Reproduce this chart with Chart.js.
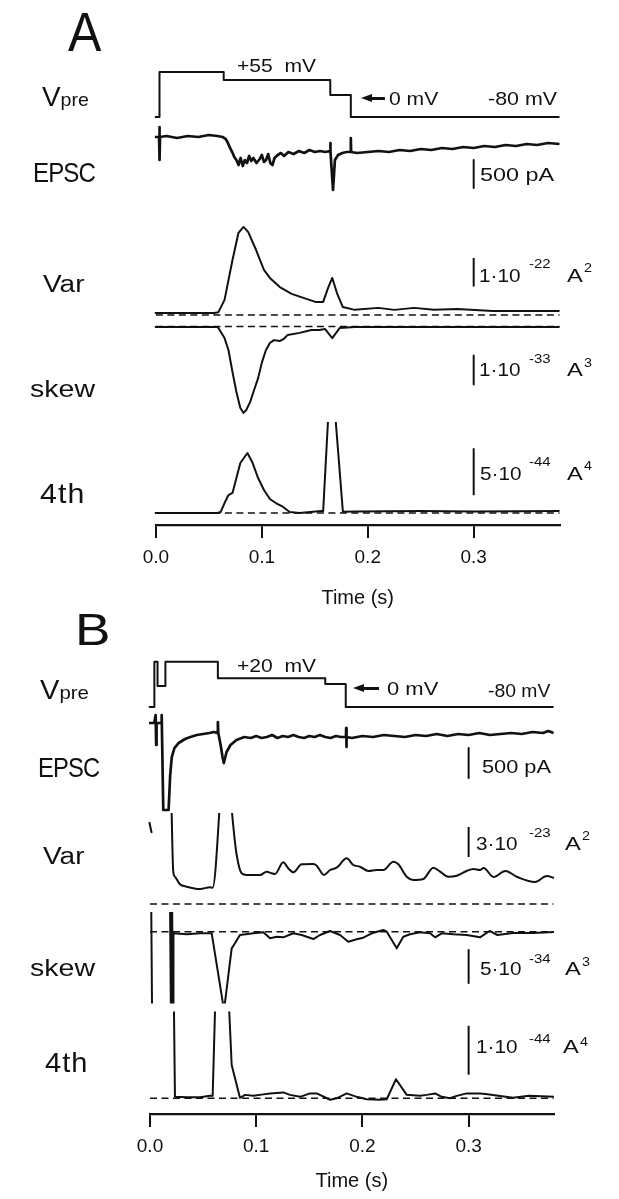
<!DOCTYPE html>
<html>
<head>
<meta charset="utf-8">
<script src="https://cdn.jsdelivr.net/npm/chart.js@4.4.1/dist/chart.umd.min.js"></script>
<style>
html, body { margin: 0; padding: 0; background: #fff; }
#fig { position: relative; width: 619px; height: 1199px; overflow: hidden; background: #fff; }
#fig canvas { position: absolute; left: 0; }
.t { position: absolute; white-space: pre; line-height: 1; color: #111; font-family: "Liberation Sans", Arial, sans-serif; transform-origin: 0 0; z-index: 2; }
.ah { position: absolute; width: 0; height: 0; border-top: 4.5px solid transparent; border-bottom: 4.5px solid transparent; border-right: 11px solid #111; z-index: 2; }
.al { position: absolute; height: 2.6px; background: #111; z-index: 2; }
</style>
</head>
<body>
<div id="fig">
  <canvas id="chartA" width="619" height="610" style="top:0px"></canvas>
  <canvas id="chartB" width="619" height="594" style="top:605px"></canvas>
</div>
<script>
// ---- data (time in s) ----
const timeTicks = [0, 0.1, 0.2, 0.3];
const barTime = 0.3;

// Panel A
const vpreA_t = [-0.001, 0.0034, 0.0034, 0.064, 0.064, 0.1646, 0.1646, 0.184, 0.184, 0.381];
const vpreA_mV = [-80, -80, 84, 84, 55, 55, 0, 0, -80, -80];

const epscA_t = [-0.001, 0.003, 0.0033, 0.0036, 0.0039, 0.01, 0.02, 0.03, 0.04, 0.05, 0.058, 0.063, 0.066, 0.068, 0.07, 0.072, 0.074, 0.076, 0.078, 0.08, 0.082, 0.084, 0.086, 0.088, 0.09, 0.092, 0.095, 0.098, 0.1, 0.102, 0.104, 0.106, 0.108, 0.11, 0.112, 0.115, 0.118, 0.121, 0.125, 0.13, 0.135, 0.14, 0.145, 0.15, 0.155, 0.16, 0.1644, 0.1646, 0.165, 0.1672, 0.169, 0.172, 0.176, 0.18, 0.1838, 0.184, 0.1843, 0.19, 0.2, 0.21, 0.22, 0.23, 0.24, 0.25, 0.26, 0.27, 0.28, 0.29, 0.3, 0.31, 0.32, 0.33, 0.34, 0.35, 0.36, 0.37, 0.381];
const epscA_pA = [0, 0, 179, -411, 0, 18, -18, 18, 0, 36, 18, 0, -36, -107, -196, -268, -357, -411, -500, -375, -518, -411, -464, -339, -429, -375, -464, -393, -321, -446, -411, -304, -464, -500, -375, -321, -286, -339, -268, -304, -250, -286, -232, -268, -250, -268, -250, -107, -268, -946, -411, -321, -286, -268, -268, -18, -268, -286, -268, -250, -268, -232, -250, -214, -232, -196, -214, -179, -196, -161, -179, -143, -161, -125, -143, -107, -125];

// variance, 1e-22 A^2
const varA_t = [-0.001, 0.055, 0.059, 0.0648, 0.0723, 0.0779, 0.0827, 0.0872, 0.0946, 0.102, 0.1076, 0.117, 0.1281, 0.1393, 0.1505, 0.1579, 0.1628, 0.1665, 0.1709, 0.1765, 0.1877, 0.21, 0.225, 0.2436, 0.2626, 0.2845, 0.318, 0.381];
const varA = [0.07, 0.07, 0.1, 0.53, 1.93, 2.88, 3.09, 2.91, 2.28, 1.58, 1.3, 0.98, 0.74, 0.6, 0.46, 0.46, 0.98, 1.3, 0.77, 0.28, 0.18, 0.25, 0.18, 0.25, 0.18, 0.21, 0.14, 0.14];

// skew, 1e-33 A^3
const skewA_t = [-0.001, 0.058, 0.059, 0.0648, 0.0685, 0.0723, 0.076, 0.0797, 0.0827, 0.0853, 0.089, 0.0927, 0.0965, 0.1002, 0.1039, 0.1076, 0.1114, 0.117, 0.1207, 0.1244, 0.1356, 0.1467, 0.1542, 0.1598, 0.1665, 0.1736, 0.1877, 0.381];
const skewA = [-0.02, -0.02, -0.05, -0.4, -0.81, -1.57, -2.26, -2.81, -2.98, -2.88, -2.6, -2.19, -1.78, -1.22, -0.81, -0.57, -0.47, -0.5, -0.43, -0.29, -0.22, -0.12, -0.12, -0.09, -0.4, -0.05, -0.02, -0.02];

// 4th moment, 1e-44 A^4
const fourthA_t = [-0.001, 0.058, 0.0611, 0.0648, 0.0685, 0.0723, 0.076, 0.0797, 0.0864, 0.0909, 0.0965, 0.102, 0.1076, 0.1132, 0.1188, 0.1263, 0.1356, 0.156, 0.1579, 0.1654, 0.1765, 0.19, 0.25, 0.3, 0.381];
const fourthA = [0, 0, 0.1, 1.06, 1.91, 2.13, 3.72, 5.32, 6.38, 5.43, 3.72, 2.45, 1.49, 1.06, 0.74, 0.1, 0, 0.2, 0.2, 16.0, 0.14, 0.17, 0.2, 0.17, 0.2];

const barEpscA = [-410, -910];
const barVarA = [1, 2];
const barSkewA = [-1, -2];
const barFourthA = [1.9, 6.9];

// Panel B
const vpreB_t = [-0.0011, 0.0041, 0.0041, 0.0071, 0.0071, 0.0145, 0.0145, 0.0639, 0.0639, 0.165, 0.165, 0.1843, 0.1843, 0.38];
const vpreB_mV = [-80, -80, 77, 77, -7, -7, 77, 77, 20, 20, 0, 0, -80, -80];

const epscB_t = [-0.001, 0.004, 0.0053, 0.0058, 0.0062, 0.0105, 0.011, 0.0125, 0.0175, 0.019, 0.0205, 0.023, 0.027, 0.033, 0.038, 0.044, 0.05, 0.056, 0.06, 0.0635, 0.0639, 0.0643, 0.0665, 0.0683, 0.0695, 0.0721, 0.0758, 0.0814, 0.0888, 0.095, 0.1, 0.105, 0.11, 0.115, 0.12, 0.125, 0.13, 0.135, 0.14, 0.145, 0.15, 0.155, 0.16, 0.165, 0.17, 0.175, 0.18, 0.1845, 0.1847, 0.1849, 0.1852, 0.19, 0.2, 0.21, 0.22, 0.23, 0.24, 0.25, 0.26, 0.27, 0.28, 0.29, 0.3, 0.31, 0.32, 0.33, 0.34, 0.35, 0.36, 0.37, 0.375, 0.38];
const epscB_pA = [0, 0, 133, -367, 0, 0, 133, -1450, -1450, -867, -567, -417, -333, -267, -233, -200, -183, -167, -150, -167, 17, -167, -367, -567, -667, -483, -367, -283, -233, -250, -217, -250, -233, -200, -250, -217, -233, -200, -233, -250, -217, -233, -200, -233, -250, -217, -233, -233, -83, -400, -233, -250, -217, -233, -200, -217, -233, -200, -217, -183, -217, -183, -200, -167, -200, -183, -167, -183, -150, -167, -133, -167];

// variance, 1e-23 A^2 (null = gap in the trace)
const varB_t = [-0.0007, 0.0016, 0.002, 0.0198, 0.0219, 0.0235, 0.0282, 0.0346, 0.0471, 0.0565, 0.059, 0.0702, 0.0816, 0.0863, 0.0911, 0.1036, 0.1099, 0.1146, 0.1177, 0.1255, 0.1302, 0.1349, 0.1428, 0.1538, 0.157, 0.1638, 0.1695, 0.1758, 0.1852, 0.1914, 0.1977, 0.2056, 0.2135, 0.2197, 0.2291, 0.2338, 0.2417, 0.2479, 0.2573, 0.2668, 0.2731, 0.2809, 0.2888, 0.2982, 0.3044, 0.3107, 0.3141, 0.3234, 0.3346, 0.3458, 0.3625, 0.3736, 0.3803];
const varB = [8.2, 7.1, null, 12.0, 3.23, 2.73, 1.97, 1.73, 1.5, 1.67, 1.63, 14.6, 4.9, 3.07, 2.9, 2.9, 3.23, 3.07, 3.0, 4.17, 3.57, 3.17, 3.97, 4.0, 3.83, 2.9, 3.4, 3.63, 4.57, 3.9, 3.73, 3.3, 3.4, 3.4, 4.23, 3.97, 2.73, 2.4, 2.5, 3.63, 3.23, 2.73, 2.83, 3.3, 3.5, 3.4, 3.6, 2.7, 3.3, 2.7, 2.2, 2.8, 2.6];

// skew, 1e-34 A^3
const skewB_t = [0.0011, 0.0021, 0.003, 0.0188, 0.0198, 0.0208, 0.0217, 0.0221, 0.0346, 0.0471, 0.0581, 0.0697, 0.0769, 0.08, 0.0847, 0.0973, 0.1067, 0.113, 0.1193, 0.1255, 0.1349, 0.1428, 0.1538, 0.1601, 0.1695, 0.1789, 0.1867, 0.1946, 0.2008, 0.2088, 0.2197, 0.2229, 0.2323, 0.2385, 0.2448, 0.2542, 0.2637, 0.2684, 0.2747, 0.2856, 0.2982, 0.3107, 0.3197, 0.3271, 0.3418, 0.3606, 0.3803];
const skewB = [5, -15, null, 5, -15, 5, -15, -0.24, -0.39, -0.24, -0.24, -11.9, -2.52, -1.76, -0.5, -0.24, -0.09, -1.0, -0.76, -0.85, -0.24, -0.5, -1.11, -0.5, 0.11, -0.5, -1.52, -1.15, -0.91, -0.24, 0.26, 0, -2.52, -0.76, -0.39, -0.09, -0.24, -0.85, -0.24, -0.39, -0.5, -0.85, 0.11, -0.5, -0.2, -0.2, -0.05];

// 4th moment, 1e-44 A^4
const fourthB_t = [0.0222, 0.0235, 0.0346, 0.0471, 0.0565, 0.059, 0.0663, 0.0769, 0.0847, 0.0895, 0.0973, 0.1067, 0.113, 0.1255, 0.1318, 0.1412, 0.1507, 0.157, 0.1695, 0.1758, 0.1852, 0.1946, 0.204, 0.2166, 0.2229, 0.2316, 0.2417, 0.2542, 0.2605, 0.2684, 0.2747, 0.2825, 0.2888, 0.2982, 0.3107, 0.316, 0.3418, 0.3569, 0.3803];
const fourthB = [2.5, 0.03, 0.02, 0.02, 0.05, 0.05, 5.77, 0.68, 0.01, 0.07, 0.05, 0.08, 0.1, 0.12, 0.07, 0.03, 0.1, 0.1, -0.03, 0, 0.1, 0.03, -0.02, -0.03, -0.02, 0.39, 0.07, 0.05, 0.07, 0.1, 0.03, 0, 0.05, 0.1, 0.1, 0.09, 0.01, 0.05, 0.03];

const barEpscB = [-417, -917];
const barVarB = [4.7, 7.7];
const barSkewB = [-2.77, -7.77];
const barFourthB = [0.48, 1.48];

// ---- drawing ----
const INK = '#111';
Chart.defaults.font.family = '"Liberation Sans", Arial, sans-serif';
Chart.defaults.color = INK;

function pts(ts, vs) {
    return ts.map((t, i) => ({ x: t, y: vs[i] }));
}

// y range so that value 0 sits at pixel "zero" with k pixels per unit
function yRange(zero, k, top, bottom) {
    return { type: 'linear', display: false, min: -(bottom - zero) / k, max: (zero - top) / k };
}

function trace(data, axis, extra) {
    return Object.assign({
        data: data,
        yAxisID: axis,
        borderColor: INK,
        borderWidth: 2,
        pointRadius: 0,
        tension: 0,
        fill: false,
        borderJoinStyle: 'round',
        clip: { left: 4, right: 2, top: 4, bottom: 4 }
    }, extra || {});
}

function dashed(axis, xmax) {
    return trace(pts([0, xmax], [0, 0]), axis, { borderWidth: 1.6, borderDash: [7, 4.5] });
}

function bar(axis, ends) {
    return trace(pts([barTime, barTime], ends), axis, { borderWidth: 2 });
}

// clip a dataset to the pixel band [top, bottom] of the chart area
function band(top, bottom, areaTop, areaBottom) {
    return { left: 4, right: 2, top: top == null ? 4 : -(top - areaTop), bottom: bottom == null ? 4 : -(areaBottom - bottom) };
}

function timeAxis(xmax, titlePad) {
    return {
        type: 'linear',
        position: 'bottom',
        min: 0,
        max: xmax,
        afterFit: s => { s.height = 85; },
        afterBuildTicks: s => { s.ticks = timeTicks.map(v => ({ value: v })); },
        border: { display: true, color: INK, width: 2.2 },
        grid: { drawOnChartArea: false, drawTicks: true, tickLength: 13, color: INK, lineWidth: 2 },
        ticks: { padding: 8, color: INK, font: { size: 19 }, maxRotation: 0, autoSkip: false, callback: v => Number(v).toFixed(1) },
        title: { display: true, text: 'Time (s)', color: INK, font: { size: 20 }, padding: { top: 0, bottom: titlePad } }
    };
}

function makeChart(id, pad, scales, datasets) {
    return new Chart(document.getElementById(id), {
        type: 'line',
        data: { datasets: datasets },
        options: {
            responsive: false,
            animation: false,
            devicePixelRatio: 1,
            events: [],
            layout: { padding: pad },
            plugins: { legend: { display: false }, tooltip: { enabled: false } },
            scales: scales
        }
    });
}

// Panel A: chart area 50..525 px, t=0 at x 155.9
const TA = 50, BA = 525, XMAX_A = 0.381;
makeChart('chartA', { left: 155.9, right: 59.5, top: TA, bottom: 0 }, {
    x: timeAxis(XMAX_A, 0),
    yV: yRange(95, 0.275, TA, BA),
    yI: yRange(137, 0.056, TA, BA),
    yVar: yRange(315, 28.5, TA, BA),
    ySkew: yRange(326.5, 29, TA, BA),
    y4: yRange(513, 9.4, TA, BA)
}, [
    trace(pts(vpreA_t, vpreA_mV), 'yV'),
    trace(pts(epscA_t, epscA_pA), 'yI', { borderWidth: 2.7 }),
    dashed('yVar', XMAX_A),
    trace(pts(varA_t, varA), 'yVar'),
    dashed('ySkew', XMAX_A),
    trace(pts(skewA_t, skewA), 'ySkew'),
    dashed('y4', XMAX_A),
    trace(pts(fourthA_t, fourthA), 'y4', { clip: band(422, null, TA, BA) }),
    bar('yI', barEpscA),
    bar('yVar', barVarA),
    bar('ySkew', barSkewA),
    bar('y4', barFourthA)
]);

// Panel B: canvas top at 605, chart area 45..509 local, t=0 at x 150
const TB = 45, BB = 509, XMAX_B = 0.38, OB = 605;
makeChart('chartB', { left: 150, right: 65.4, top: TB, bottom: 0 }, {
    x: timeAxis(XMAX_B, 6),
    yV: yRange(684 - OB, 0.2875, TB, BB),
    yI: yRange(723 - OB, 0.06, TB, BB),
    yVar: yRange(904 - OB, 10, TB, BB),
    ySkew: yRange(931.7 - OB, 6.6, TB, BB),
    y4: yRange(1098.3 - OB, 49, TB, BB)
}, [
    trace(pts(vpreB_t, vpreB_mV), 'yV'),
    trace(pts(epscB_t, epscB_pA), 'yI', { borderWidth: 2.7 }),
    dashed('yVar', XMAX_B),
    trace(pts(varB_t, varB), 'yVar', { clip: band(813 - OB, 908 - OB, TB, BB), cubicInterpolationMode: 'monotone' }),
    dashed('ySkew', XMAX_B),
    trace(pts(skewB_t, skewB), 'ySkew', { clip: band(912 - OB, 1003.5 - OB, TB, BB) }),
    dashed('y4', XMAX_B),
    trace(pts(fourthB_t, fourthB), 'y4', { clip: band(1011.5 - OB, null, TB, BB) }),
    bar('yI', barEpscB),
    bar('yVar', barVarB),
    bar('ySkew', barSkewB),
    bar('y4', barFourthB)
]);

// ---- text ----
const fig = document.getElementById('fig');

function text(str, left, baseline, size, width, opts) {
    const el = document.createElement('div');
    el.className = 't';
    if (opts && opts.html) el.innerHTML = str; else el.textContent = str;
    el.style.fontSize = size + 'px';
    el.style.left = left + 'px';
    el.style.top = (baseline - 0.8465 * size) + 'px';
    if (opts && opts.spacing) el.style.letterSpacing = opts.spacing + 'px';
    fig.appendChild(el);
    if (width) {
        const w = el.getBoundingClientRect().width;
        el.style.transform = 'scaleX(' + (width / w) + ')';
    }
    return el;
}

function arrow(x1, x2, y) {
    const head = document.createElement('div');
    head.className = 'ah';
    head.style.left = x1 + 'px';
    head.style.top = (y - 4.5) + 'px';
    const line = document.createElement('div');
    line.className = 'al';
    line.style.left = (x1 + 9) + 'px';
    line.style.width = (x2 - x1 - 9) + 'px';
    line.style.top = (y - 1.3) + 'px';
    fig.appendChild(head);
    fig.appendChild(line);
}

function unitLabel(mant, exp, unitPow, left, base, sub) {
    text(mant, left, base, 19, 41.5);
    text(exp, 529, base - sub[0], 13, 21.7);
    text('A', sub[2], base, 19, 15.8);
    text(unitPow, sub[2] + 17, base - sub[1], 13, 8);
}

// Panel A
text('A', 68, 52, 55, 33.4);
text('V<span style="font-size:19px">pre</span>', 42, 106.5, 27, 47, { html: true });
text('+55  mV', 236.9, 72.5, 19, 79);
arrow(361, 385, 98.5);
text('0 mV', 388.9, 105, 19, 49.3);
text('-80 mV', 487.6, 105, 19, 69);
text('EPSC', 33, 182, 27.5, 62, { spacing: -1 });
text('500 pA', 479.5, 181, 19, 74);
text('Var', 43.4, 293, 23.5, 41.5);
unitLabel('1·10', '-22', '2', 478.5, 282, [14, 10, 566.5]);
text('skew', 29.6, 398, 24.5, 65);
unitLabel('1·10', '-33', '3', 478.5, 376.5, [13.5, 9.5, 566.5]);
text('4th', 39.5, 504, 28, 45.4, { spacing: 1 });
unitLabel('5·10', '-44', '4', 479.7, 480, [14, 10, 566.5]);

// Panel B
text('B', 75, 645, 44, 35.5);
text('V<span style="font-size:19px">pre</span>', 39.5, 700, 27, 49, { html: true });
text('+20  mV', 236.9, 672, 19, 79);
arrow(353.3, 379, 688.3);
text('0 mV', 386.9, 695.5, 19, 51.3);
text('-80 mV', 488.4, 697, 19, 62.3);
text('EPSC', 37.5, 777, 27.5, 61.2, { spacing: -1 });
text('500 pA', 481.6, 773, 19, 69);
text('Var', 43.4, 865, 23.5, 41.5);
unitLabel('3·10', '-23', '2', 475.7, 850, [13, 10, 564.5]);
text('skew', 29.6, 977, 24.5, 65);
unitLabel('5·10', '-34', '3', 479.7, 975, [12, 9, 564.5]);
text('4th', 45.4, 1073, 28, 43.4, { spacing: 1 });
unitLabel('1·10', '-44', '4', 475.7, 1053, [10, 7, 562.6]);
</script>
</body>
</html>
